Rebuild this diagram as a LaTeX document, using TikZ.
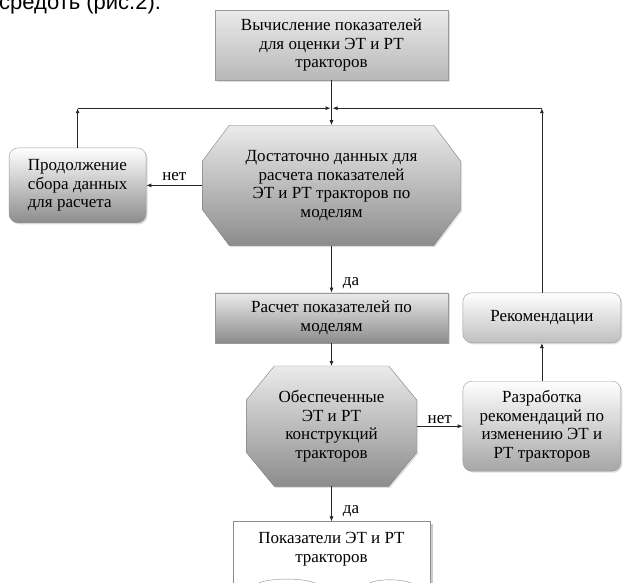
\documentclass[tikz,border=0pt]{standalone}
\usepackage{fontspec}
\setmainfont{Liberation Serif}
\newfontfamily\headfont{Liberation Sans}
\usetikzlibrary{arrows.meta,positioning,shadows}
\pgfdeclarelayer{background}
\pgfsetlayers{background,main}
% octagon drawn behind a text node: name, chamfer x, chamfer y
\newcommand\octshape[3]{%
  \begin{pgfonlayer}{background}
  \shade[draw=black!50, top color=black!8, bottom color=black!45, drop shadow={shadow xshift=1.5pt, shadow yshift=-1.5pt, opacity=0.25}]
    ([xshift=#2]#1.north west) -- ([xshift=-#2]#1.north east) -- ([yshift=-#3]#1.north east) -- ([yshift=#3]#1.south east)
    -- ([xshift=-#2]#1.south east) -- ([xshift=#2]#1.south west) -- ([yshift=#3]#1.south west) -- ([yshift=-#3]#1.north west) -- cycle;
  \end{pgfonlayer}}

\begin{document}
\begin{tikzpicture}[x=1pt, y=1pt, node distance=30pt,
  txt/.style={align=center, font=\fontsize{17}{18.5}\selectfont, inner sep=3pt},
  box/.style={txt, draw=black!40, top color=black!8, bottom color=black!45, drop shadow={shadow xshift=1.5pt, shadow yshift=-1.5pt, opacity=0.25}},
  rbox/.style={box, rounded corners=9pt, top color=white},
  lbl/.style={font=\fontsize{17}{18.5}\selectfont, inner sep=2pt},
  line/.style={draw=black!85, line width=0.8pt}, >={Latex[length=5pt,width=4pt]}]
\useasboundingbox (0,0) rectangle (627,-582);
\clip (0,0) rectangle (627,-582);
\node[anchor=base west, inner sep=0pt, font=\headfont\fontsize{22}{24}\selectfont] (head) at (-1,-9) {средоть (рис.2).};
\node[box, minimum width=233pt, minimum height=70pt, bottom color=black!28] (calc) at (331.5,-45) {Вычисление показателей\\для оценки ЭТ и РТ\\тракторов};
\node[txt, minimum width=258pt, minimum height=120pt, below=45pt of calc] (enough) {Достаточно данных для\\расчета показателей\\ЭТ и РТ тракторов по\\моделям};
\octshape{enough}{27pt}{36pt}
\node[rbox, align=left, minimum width=137pt, minimum height=75pt, left=56pt of enough] (prod) {Продолжение\\сбора данных\\для расчета};
\node[box, minimum width=233pt, minimum height=50pt, below=47pt of enough] (model) {Расчет показателей по\\моделям};
\node[txt, minimum width=170pt, minimum height=120pt, below=23pt of model] (check) {Обеспеченные\\ЭТ и РТ\\конструкций\\тракторов};
\octshape{check}{28pt}{34pt}
\node[rbox, minimum width=158pt, minimum height=90pt, bottom color=black!35, right=46pt of check] (dev) {Разработка\\рекомендаций по\\изменению ЭТ и\\РТ тракторов};
\node[rbox, minimum width=158pt, minimum height=50pt, bottom color=black!25, above=38pt of dev] (rec) {Рекомендации};
\node[txt, minimum width=197pt, minimum height=55pt, below=35pt of check] (res) {Показатели ЭТ и РТ\\тракторов};
% open frame of the result sheet
\fill[black!20] ([shift={(1pt,-3pt)}]res.north east) rectangle ([shift={(3pt,-20pt)}]res.south east);
\draw[black!45] ([yshift=-20pt]res.south west) -- (res.north west) -- (res.north east) -- ([yshift=-20pt]res.south east);
\draw[black!45] ([shift={(22,-9)}]res.south west) .. controls ([shift={(28,0)}]res.south west) and ([shift={(80,0)}]res.south west) .. ([shift={(86,-9)}]res.south west);
\draw[black!45] ([shift={(133,-9)}]res.south west) .. controls ([shift={(138,-1)}]res.south west) and ([shift={(176,-1)}]res.south west) .. ([shift={(182,-9)}]res.south west);

\coordinate[below=28pt of calc] (jn);
\coordinate (lt) at (prod.north |- jn);
\coordinate (rt) at (rec.north |- jn);
\draw[line,->] (calc) -- (enough);
\draw[line,->] (prod) -- (lt);
\draw[line,->] (lt) -- ([xshift=-1pt]jn);
\draw[line,->] (rec) -- (rt);
\draw[line,->] (rt) -- ([xshift=1pt]jn);
\draw[line,->] (enough) -- node[lbl, above=2pt] {нет} (prod);
\draw[line,->] (enough) -- node[lbl, pos=0.8, right=9pt] {да} (model);
\draw[line,->] (model) -- (check);
\draw[line,->] (check) -- node[lbl, above] {нет} (dev);
\draw[line,->] (dev) -- (rec);
\draw[line,->] (check) -- node[lbl, pos=0.7, right=9pt] {да} (res);
\end{tikzpicture}
\end{document}
